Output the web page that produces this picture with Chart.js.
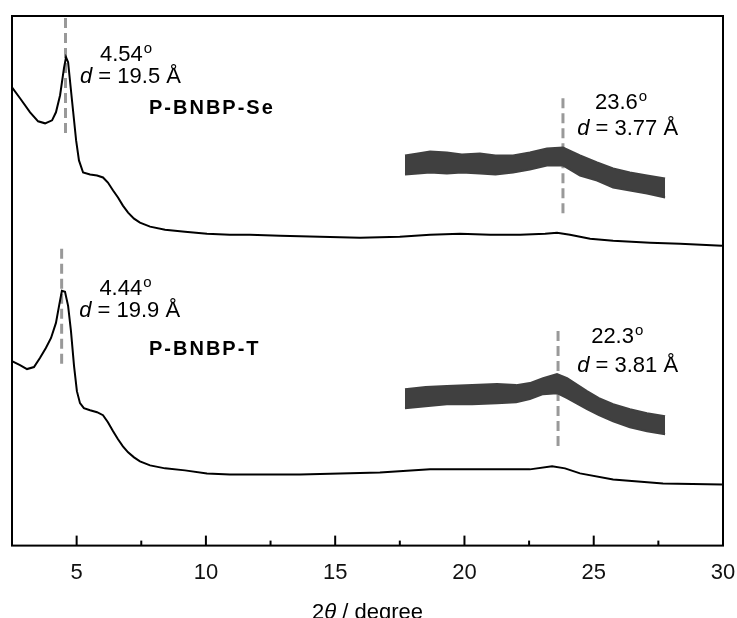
<!DOCTYPE html>
<html lang="en">

<head>
    <meta charset="UTF-8">
    <title>XRD P-BNBP</title>
    <style>
        body { margin: 0; background: #fff; }
        #box { width: 737px; height: 618px; }
    </style>
</head>

<body>
    <div id="box"><canvas id="xrd"></canvas></div>

    <script src="https://cdn.jsdelivr.net/npm/chart.js"></script>
    <script>
        // x tick labels (2theta, degree)
        const xTickLabels = [5, 10, 15, 20, 25, 30]

        // P-BNBP-Se full pattern (offset, a.u.)
        const seX = [2.50, 2.81, 3.20, 3.51, 3.78, 4.05, 4.20, 4.36, 4.51, 4.59, 4.67, 4.82, 4.98, 5.09, 5.25, 5.52, 5.79, 6.02, 6.21, 6.41, 6.60, 6.79, 6.99, 7.22, 7.45, 7.84, 8.42, 9.19, 10.04, 10.93, 11.70, 12.87, 14.41, 15.96, 17.50, 18.67, 19.83, 21.00, 22.15, 23.12, 23.58, 24.08, 24.86, 25.75, 27.18, 28.34, 29.96]
        const seY = [457, 446, 432, 423, 421, 424, 432, 449, 476, 487, 482, 444, 404, 384, 372, 370, 369, 367, 362, 354, 347, 339, 332, 326, 322, 318, 315, 313, 311, 310, 310, 309, 308, 307, 308, 310, 311, 310, 310, 311, 312, 310, 306, 304, 302, 301, 299]

        // P-BNBP-T full pattern
        const tX = [2.50, 2.81, 3.08, 3.35, 3.58, 3.81, 4.01, 4.20, 4.32, 4.43, 4.55, 4.67, 4.78, 4.90, 5.01, 5.13, 5.28, 5.52, 5.79, 6.02, 6.21, 6.41, 6.60, 6.79, 6.99, 7.22, 7.45, 7.84, 8.42, 9.19, 10.04, 10.93, 12.09, 13.64, 15.19, 16.73, 18.67, 20.60, 22.53, 23.39, 23.89, 24.47, 25.75, 27.68, 29.96]
        const tY = [184, 180, 176, 178, 187, 197, 207, 222, 239, 254, 253, 239, 214, 179, 154, 142, 137, 135, 133, 130, 123, 114, 106, 99, 93, 88, 84, 80, 77, 75, 72, 71, 71, 71, 72, 73, 76, 76, 76, 79, 77, 72, 66, 62, 61]

        // magnified wide-angle scans (noisy band: upper / lower envelope)
        const seInsetX = [17.70, 18.20, 18.67, 19.32, 19.90, 20.60, 21.20, 21.88, 22.53, 23.19, 23.81, 24.47, 25.13, 25.75, 26.40, 27.06, 27.76]
        const seInsetHi = [389, 391, 393, 392, 390, 391, 389, 389, 392, 396, 397, 389, 382, 376, 372, 369, 366]
        const seInsetLo = [370, 371, 372, 371, 372, 371, 370, 372, 375, 379, 379, 369, 364, 357, 354, 351, 347]

        const tInsetX = [17.70, 18.50, 19.32, 20.30, 21.26, 22.00, 22.53, 23.04, 23.58, 23.97, 24.74, 25.20, 25.75, 26.40, 27.06, 27.76]
        const tInsetHi = [156, 158, 159, 160, 161, 160, 162, 167, 171, 167, 154, 147, 141, 136, 132, 129]
        const tInsetLo = [137, 139, 141, 141, 142, 143, 146, 151, 152, 147, 136, 130, 124, 118, 114, 111]

        // dashed peak markers: x, y from, y to
        const markX = [4.57, 4.42, 23.81, 23.62]
        const markFrom = [526, 296, 446, 214]
        const markTo = [407, 179, 331, 99]

        // annotation texts
        const peakAngles = ['4.54', '4.44', '23.6', '22.3']
        const dSpacings = ['19.5', '19.9', '3.77', '3.81']
        const sampleNames = ['P-BNBP-Se', 'P-BNBP-T']

        const pts = (xs, ys) => xs.map((v, i) => ({ x: v, y: ys[i] }))
        const FONT = '"Liberation Sans", Arial, sans-serif'

        const datasets = [
            { data: pts(seX, seY), borderColor: '#000', borderWidth: 2 },
            { data: pts(tX, tY), borderColor: '#000', borderWidth: 2 },
            { data: pts(seInsetX, seInsetHi), borderColor: '#404040', borderWidth: 2 },
            { data: pts(seInsetX, seInsetLo), borderColor: '#404040', borderWidth: 2, fill: '-1', backgroundColor: '#404040' },
            { data: pts(tInsetX, tInsetHi), borderColor: '#404040', borderWidth: 2 },
            { data: pts(tInsetX, tInsetLo), borderColor: '#404040', borderWidth: 2, fill: '-1', backgroundColor: '#404040' }
        ]
        markX.forEach((v, i) => {
            datasets.push({
                data: [{ x: v, y: markFrom[i] }, { x: v, y: markTo[i] }],
                borderColor: '#999', borderWidth: 3, borderDash: [10, 5]
            })
        })

        // label positions (data units) - left edge, vertical centre
        const notes = [
            { kind: 'deg', i: 0, x: 5.90, y: 489 },
            { kind: 'd', i: 0, x: 5.13, y: 467 },
            { kind: 'name', i: 0, x: 7.80, y: 436 },
            { kind: 'deg', i: 1, x: 5.88, y: 256 },
            { kind: 'd', i: 1, x: 5.10, y: 234 },
            { kind: 'name', i: 1, x: 7.80, y: 196 },
            { kind: 'deg', i: 2, x: 25.05, y: 441 },
            { kind: 'd', i: 2, x: 24.36, y: 415 },
            { kind: 'deg', i: 3, x: 24.90, y: 208 },
            { kind: 'd', i: 3, x: 24.36, y: 179 }
        ]

        const decor = {
            id: 'decor',
            afterDraw(chart) {
                const { ctx, chartArea: { left, top, right, bottom }, scales: { x, y } } = chart
                ctx.save()
                // frame + inward ticks
                ctx.strokeStyle = '#000'
                ctx.lineWidth = 2
                ctx.strokeRect(left, top, right - left, bottom - top)
                x.ticks.forEach(t => {
                    const px = x.getPixelForValue(t.value)
                    const len = t.value % 5 === 0 ? 10 : 5
                    ctx.beginPath()
                    ctx.moveTo(px, bottom)
                    ctx.lineTo(px, bottom - len)
                    ctx.stroke()
                })

                ctx.fillStyle = '#000'
                ctx.textBaseline = 'middle'
                ctx.textAlign = 'left'
                notes.forEach(n => {
                    let px = x.getPixelForValue(n.x)
                    const py = y.getPixelForValue(n.y)
                    if (n.kind === 'deg') {
                        ctx.font = '22px ' + FONT
                        ctx.fillText(peakAngles[n.i], px, py)
                        px += ctx.measureText(peakAngles[n.i]).width + 1
                        ctx.font = '15px ' + FONT
                        ctx.fillText('o', px, py - 6)
                    } else if (n.kind === 'd') {
                        ctx.font = 'italic 22px ' + FONT
                        ctx.fillText('d', px, py)
                        px += ctx.measureText('d').width
                        ctx.font = '22px ' + FONT
                        ctx.fillText(' = ' + dSpacings[n.i] + ' Å', px, py)
                    } else {
                        ctx.font = 'bold 20px ' + FONT
                        ctx.letterSpacing = '2px'
                        ctx.fillText(sampleNames[n.i], px, py)
                        ctx.letterSpacing = '0px'
                    }
                })

                // axis title: 2θ / degree
                const base = 619
                ctx.textBaseline = 'alphabetic'
                ctx.font = '22px ' + FONT
                const w1 = ctx.measureText('2').width
                const w3 = ctx.measureText(' / degree').width
                ctx.font = 'italic 22px ' + FONT
                const w2 = ctx.measureText('θ').width
                let tx = (left + right) / 2 - (w1 + w2 + w3) / 2
                ctx.font = '22px ' + FONT
                ctx.fillText('2', tx, base)
                tx += w1
                ctx.font = 'italic 22px ' + FONT
                ctx.fillText('θ', tx, base)
                tx += w2
                ctx.font = '22px ' + FONT
                ctx.fillText(' / degree', tx, base)
                ctx.restore()
            }
        }

        new Chart(document.getElementById('xrd'), {
            type: 'line',
            data: { datasets: datasets },
            options: {
                responsive: true,
                maintainAspectRatio: false,
                animation: false,
                layout: { padding: { left: 12, top: 16, right: 1, bottom: 18 } },
                elements: { point: { radius: 0 }, line: { tension: 0, fill: false } },
                plugins: { legend: { display: false }, tooltip: { enabled: false } },
                scales: {
                    x: {
                        type: 'linear',
                        min: 2.5,
                        max: 30,
                        grid: { display: false, drawTicks: false },
                        border: { display: false },
                        afterFit: s => { s.paddingRight = 14; s.paddingLeft = 0 },
                        ticks: {
                            stepSize: 2.5,
                            autoSkip: false,
                            maxRotation: 0,
                            padding: 14,
                            color: '#111',
                            font: { family: FONT, size: 22 },
                            callback: v => xTickLabels.includes(v) ? String(v) : ''
                        }
                    },
                    y: { display: false, min: 0, max: 528 }
                }
            },
            plugins: [decor]
        })
    </script>
</body>

</html>
